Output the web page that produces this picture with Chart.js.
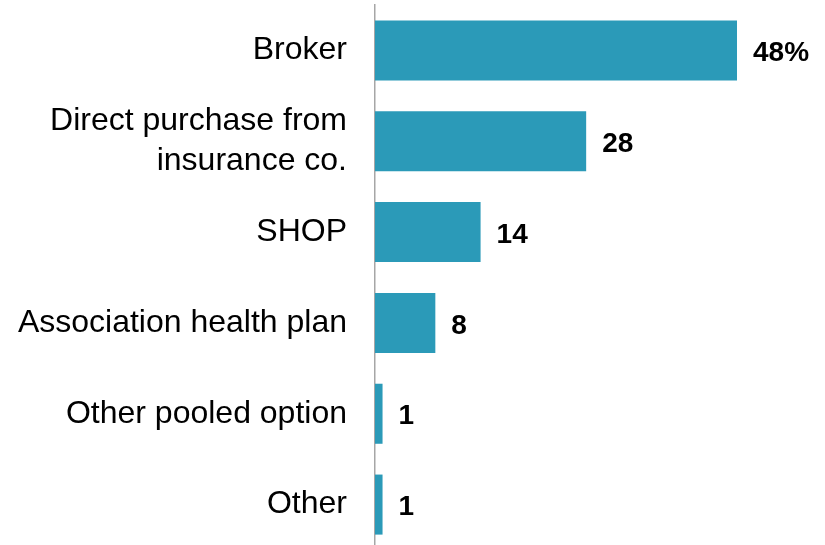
<!DOCTYPE html>
<html>
<head>
<meta charset="utf-8">
<script src="https://cdn.jsdelivr.net/npm/chart.js@4/dist/chart.umd.min.js"></script>
<style>
  html, body { margin: 0; padding: 0; background: #fff; overflow: hidden; }
  #wrap { width: 825px; height: 550px; }
</style>
</head>
<body>
<div id="wrap"><canvas id="bars"></canvas></div>
<script>
var categories = ["Broker", ["Direct purchase from", "insurance co."], "SHOP", "Association health plan", "Other pooled option", "Other"];
var shares = [48, 28, 14, 8, 1, 1];
var xMin = 0;
var xMax = 48;

// numbers at the end of each bar, first one gets the % sign
var endLabels = {
  id: 'endLabels',
  afterDatasetsDraw: function(chart) {
    var ctx = chart.ctx;
    var meta = chart.getDatasetMeta(0);
    ctx.save();
    ctx.font = 'bold 28px "Liberation Sans", Arial, sans-serif';
    ctx.fillStyle = '#000';
    ctx.textAlign = 'left';
    ctx.textBaseline = 'middle';
    meta.data.forEach(function(bar, i) {
      var txt = i == 0 ? shares[i] + '%' : String(shares[i]);
      ctx.fillText(txt, bar.x + 16, bar.y + 3);
    });
    ctx.restore();
  }
};

var ctx = document.getElementById("bars").getContext("2d");
var myChart = new Chart(ctx, {
  type: 'bar',
  data: {
    labels: categories,
    datasets: [{
      data: shares,
      backgroundColor: '#2b9ab8',
      borderWidth: 0,
      barPercentage: 0.661,
      categoryPercentage: 1
    }]
  },
  options: {
    indexAxis: 'y',
    responsive: true,
    maintainAspectRatio: false,
    animation: false,
    layout: { padding: { top: 5, right: 88, bottom: 0, left: 0 } },
    plugins: {
      legend: { display: false },
      tooltip: { enabled: false }
    },
    scales: {
      x: {
        display: false,
        min: xMin,
        max: xMax
      },
      y: {
        afterFit: function(scale) {
          scale.width = 375;
          scale.paddingTop = 0;
          scale.paddingBottom = 0;
        },
        grid: { display: false, drawTicks: false },
        border: { display: true, color: '#a6a6a6', width: 1.5 },
        ticks: {
          padding: 28,
          color: '#000',
          font: { family: '"Liberation Sans", Arial, sans-serif', size: 32, lineHeight: 1.25 }
        }
      }
    }
  },
  plugins: [endLabels]
});
</script>
</body>
</html>
